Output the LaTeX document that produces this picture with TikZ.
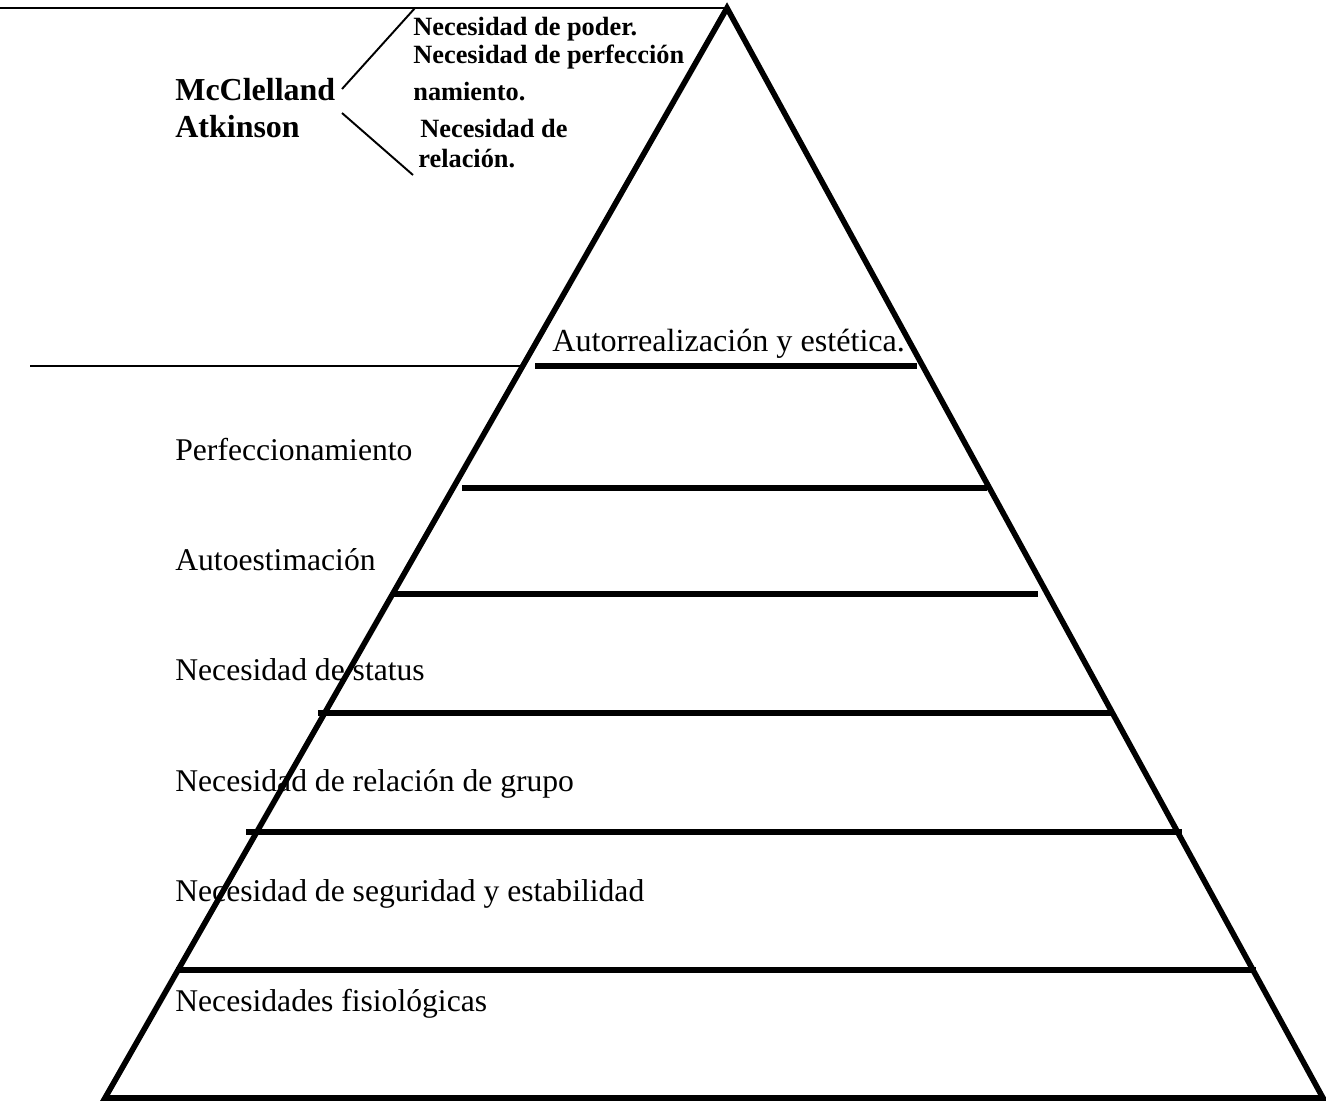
\documentclass[tikz,border=0pt]{standalone}
\usepackage{fontspec}
\setmainfont{Liberation Serif}
\usetikzlibrary{positioning}
\tikzset{
  bar/.style={line width=3.2pt},
  rule/.style={line width=1.1pt},
  lvl/.style={anchor=base west, inner sep=0pt, font=\fontsize{18}{20}\selectfont},
  need/.style={anchor=base west, inner sep=0pt, font=\bfseries\fontsize{15}{17}\selectfont},
  author/.style={anchor=base west, inner sep=0pt, font=\bfseries\fontsize{18.2}{20}\selectfont},
}

\begin{document}
\begin{tikzpicture}[x=0.02cm, y=-0.02cm]
    \useasboundingbox (0,0) rectangle (1326,1103);
    \coordinate (apex) at (727,8);
    \coordinate (bl) at (105,1098);
    \coordinate (br) at (1323,1098);
    \draw[bar, line join=miter] (bl) -- (apex) -- (br) -- cycle;
    % levels
    \foreach \y/\xa/\xb in {366/535/917, 488/462/987, 594/392/1038, 713/318/1112, 832/246/1182, 970/176/1256}
      \draw[bar] (\xa,\y) -- (\xb,\y);
    \draw[rule] (0,8) -- (apex);
    \draw[rule] (30,366) -- (523,366);
    \node[lvl, font=\fontsize{18.3}{20}\selectfont] (ar) at (552,351) {Autorrealización y estética.};
    \node[lvl] (pf) at (175,460) {Perfeccionamiento};
    \node[lvl] (ae) at (175,570) {Autoestimación};
    \node[lvl] (st) at (175,680) {Necesidad de status};
    \node[lvl] (rg) at (175,791) {Necesidad de relación de grupo};
    \node[lvl] (se) at (175,901) {Necesidad de seguridad y estabilidad};
    \node[lvl] (fi) at (175,1011) {Necesidades fisiológicas};
    % McClelland
    \node[author] (mc) at (175,100) {McClelland};
    \node[author] (at) at (175,137) {Atkinson};
    \node[need] (po) at (413,35) {Necesidad de poder.};
    \node[need] (pe) at (413,63) {Necesidad de perfección};
    \node[need] (na) at (413,100) {namiento.};
    \node[need] (re) at (420,137) {Necesidad de};
    \node[need] (rl) at (418,167) {relación.};
    \coordinate (up0) at (342,89);
    \coordinate (up1) at (415,8);
    \coordinate (dn0) at (342,113);
    \coordinate (dn1) at (413,175);
    \draw[rule] (up0) -- (up1);
    \draw[rule] (dn0) -- (dn1);
\end{tikzpicture}
\end{document}
